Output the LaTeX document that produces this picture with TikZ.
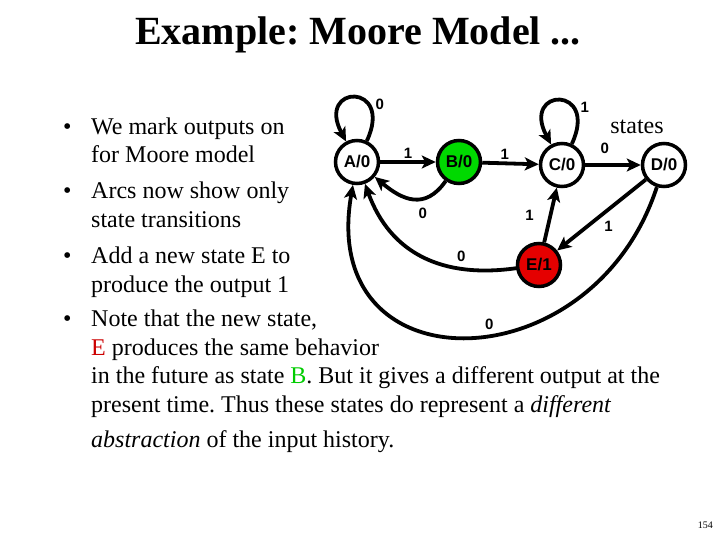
\documentclass[tikz,border=0pt]{standalone}
\usepackage{fontspec}
\setmainfont{Liberation Serif}
\setsansfont{Liberation Sans}
\usepackage{tikz}
\usetikzlibrary{arrows.meta}
\frenchspacing

\tikzset{
  stnode/.style={circle,draw=black,line width=3.5pt,minimum size=43pt,inner sep=0pt,fill=white,
    font=\sffamily\bfseries\fontsize{17}{17}\selectfont},
  trans/.style={line width=3.8pt,-{Stealth[length=14pt,width=13pt,inset=3.5pt]}},
  lbl/.style={font=\sffamily\bfseries\fontsize{15}{15}\selectfont,inner sep=1pt},
  body/.style={anchor=base west,inner sep=0pt,font=\fontsize{24}{24}\selectfont}
}

\begin{document}
\begin{tikzpicture}[x=1pt,y=-1pt]
\useasboundingbox (0,0) rectangle (720,540);
\node[anchor=base,font=\bfseries\fontsize{40}{40}\selectfont] (title) at (358,45) {Example: Moore Model ...};

\node[body] at (63,135) {\textbullet};
\node[body] (l1) at (91,135) {We mark outputs on};
\node[body] (l2) at (91,163) {for Moore model};
\node[body] at (63,199) {\textbullet};
\node[body] (l3) at (91,199) {Arcs now show only};
\node[body] (l4) at (91,227) {state transitions};
\node[body] at (63,263) {\textbullet};
\node[body] (l5) at (91,263) {Add a new state E to};
\node[body] (l6) at (91,292) {produce the output 1};
\node[body] at (63,326) {\textbullet};
\node[body] (l7) at (91,326) {Note that the new state,};
\node[body] (l8) at (91,355) {\textcolor{red!80!black}{E} produces the same behavior};
\node[body] (l9) at (91,383) {in the future as state \textcolor{green!80!black}{B}. But it gives a different output at the};
\node[body] (l10) at (91,412) {present time. Thus these states do represent a \textit{different}};
\node[body] (l11) at (91,447) {\textit{abstraction} of the input history.};

\node[stnode] (A) at (357,162) {A/0};
\node[stnode,fill=green!85!black] (B) at (459,162) {B/0};
\node[stnode] (C) at (562,165) {C/0};
\node[stnode] (D) at (664,165) {D/0};
\node[stnode,fill=red!90!black] (E) at (539,265) {E/1};

\draw[trans] (A) to[out=65,in=118,looseness=8] node[lbl,pos=0.3,right=4pt] {0} (A);
\draw[trans] (C) to[out=65,in=118,looseness=8] node[lbl,pos=0.3,right=4pt] {1} (C);
\draw[trans] (A) -- node[lbl,above=1pt] {1} (B);
\draw[trans] (B) -- node[lbl,above=1pt,pos=0.4] {1} (C);
\draw[trans] (C) -- node[lbl,above=8pt,pos=0.35] {0} (D);
\node[font=\fontsize{24}{24}\selectfont,inner sep=0pt] (st) at (637,127) {states};
\draw[trans] (B) to[out=-125,in=-40,looseness=1.3] node[lbl,below=6pt,xshift=10pt] {0} (A);
\draw[trans] (E) -- node[lbl,left=14pt] {1} (C);
\draw[trans] (D) -- node[lbl,below right=0pt,yshift=-3pt] {1} (E);
\draw[trans] (E) to[out=188,in=-70,looseness=1.1] node[lbl,above=4pt,pos=0.27] {0} (A);
\draw[trans] (D) to[out=-108,in=-100,looseness=1.75] node[lbl,above=3pt,pos=0.45] {0} (A);

\node[anchor=base east,font=\fontsize{10}{10}\selectfont,inner sep=0pt] (pg) at (713,528) {154};
\end{tikzpicture}
\end{document}
